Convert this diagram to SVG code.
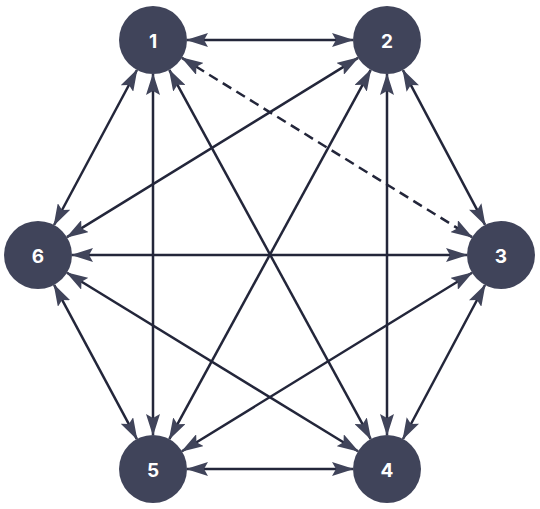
<svg xmlns="http://www.w3.org/2000/svg" width="540" height="509" viewBox="0 0 540 509">
<defs>
<marker id="arr" viewBox="0 0 22 14" refX="21" refY="7" markerWidth="22" markerHeight="14" markerUnits="userSpaceOnUse" orient="auto-start-reverse">
<path d="M0,0 L22,7 L0,14 L4,7 Z" fill="#40445a"/>
</marker>
<style>
.e{stroke:#23263a;stroke-width:2.5;fill:none;marker-start:url(#arr);marker-end:url(#arr)}
.d{stroke-dasharray:10 6}
.n circle{fill:#40445a}
.n text{fill:#ffffff;font-family:Inter,"Liberation Sans",sans-serif;font-weight:700;font-size:19px;text-anchor:middle;dominant-baseline:central}
</style>
</defs>
<rect width="540" height="509" fill="#ffffff"/>
<g id="connectors">
<line class="e" x1="187" y1="40" x2="353" y2="40"/>
<line class="e" x1="153" y1="74" x2="153" y2="435"/>
<line class="e" x1="136.96" y1="69.98" x2="54.04" y2="225.02"/>
<line class="e" x1="169.28" y1="69.85" x2="370.72" y2="439.15"/>
<line class="e d" x1="181.93" y1="57.87" x2="472.07" y2="237.13"/>
<line class="e" x1="402.93" y1="70.04" x2="485.07" y2="224.96"/>
<line class="e" x1="387" y1="74" x2="387" y2="435"/>
<line class="e" x1="370.72" y1="69.85" x2="169.28" y2="439.15"/>
<line class="e" x1="358.05" y1="57.83" x2="66.95" y2="237.17"/>
<line class="e" x1="485.01" y1="285.01" x2="402.99" y2="438.99"/>
<line class="e" x1="472.04" y1="272.81" x2="181.96" y2="451.19"/>
<line class="e" x1="467" y1="255" x2="72" y2="255"/>
<line class="e" x1="353" y1="469" x2="187" y2="469"/>
<line class="e" x1="358.02" y1="451.23" x2="66.98" y2="272.77"/>
<line class="e" x1="136.91" y1="439.05" x2="54.09" y2="284.95"/>
</g>
<g id="node1" class="n"><circle cx="153" cy="40" r="34"/><text x="153" y="41">1</text></g>
<g id="node2" class="n"><circle cx="387" cy="40" r="34"/><text x="387" y="41">2</text></g>
<g id="node3" class="n"><circle cx="501" cy="255" r="34"/><text x="501" y="256">3</text></g>
<g id="node4" class="n"><circle cx="387" cy="469" r="34"/><text x="387" y="470">4</text></g>
<g id="node5" class="n"><circle cx="153" cy="469" r="34"/><text x="153" y="470">5</text></g>
<g id="node6" class="n"><circle cx="38" cy="255" r="34"/><text x="38" y="256">6</text></g>
</svg>
